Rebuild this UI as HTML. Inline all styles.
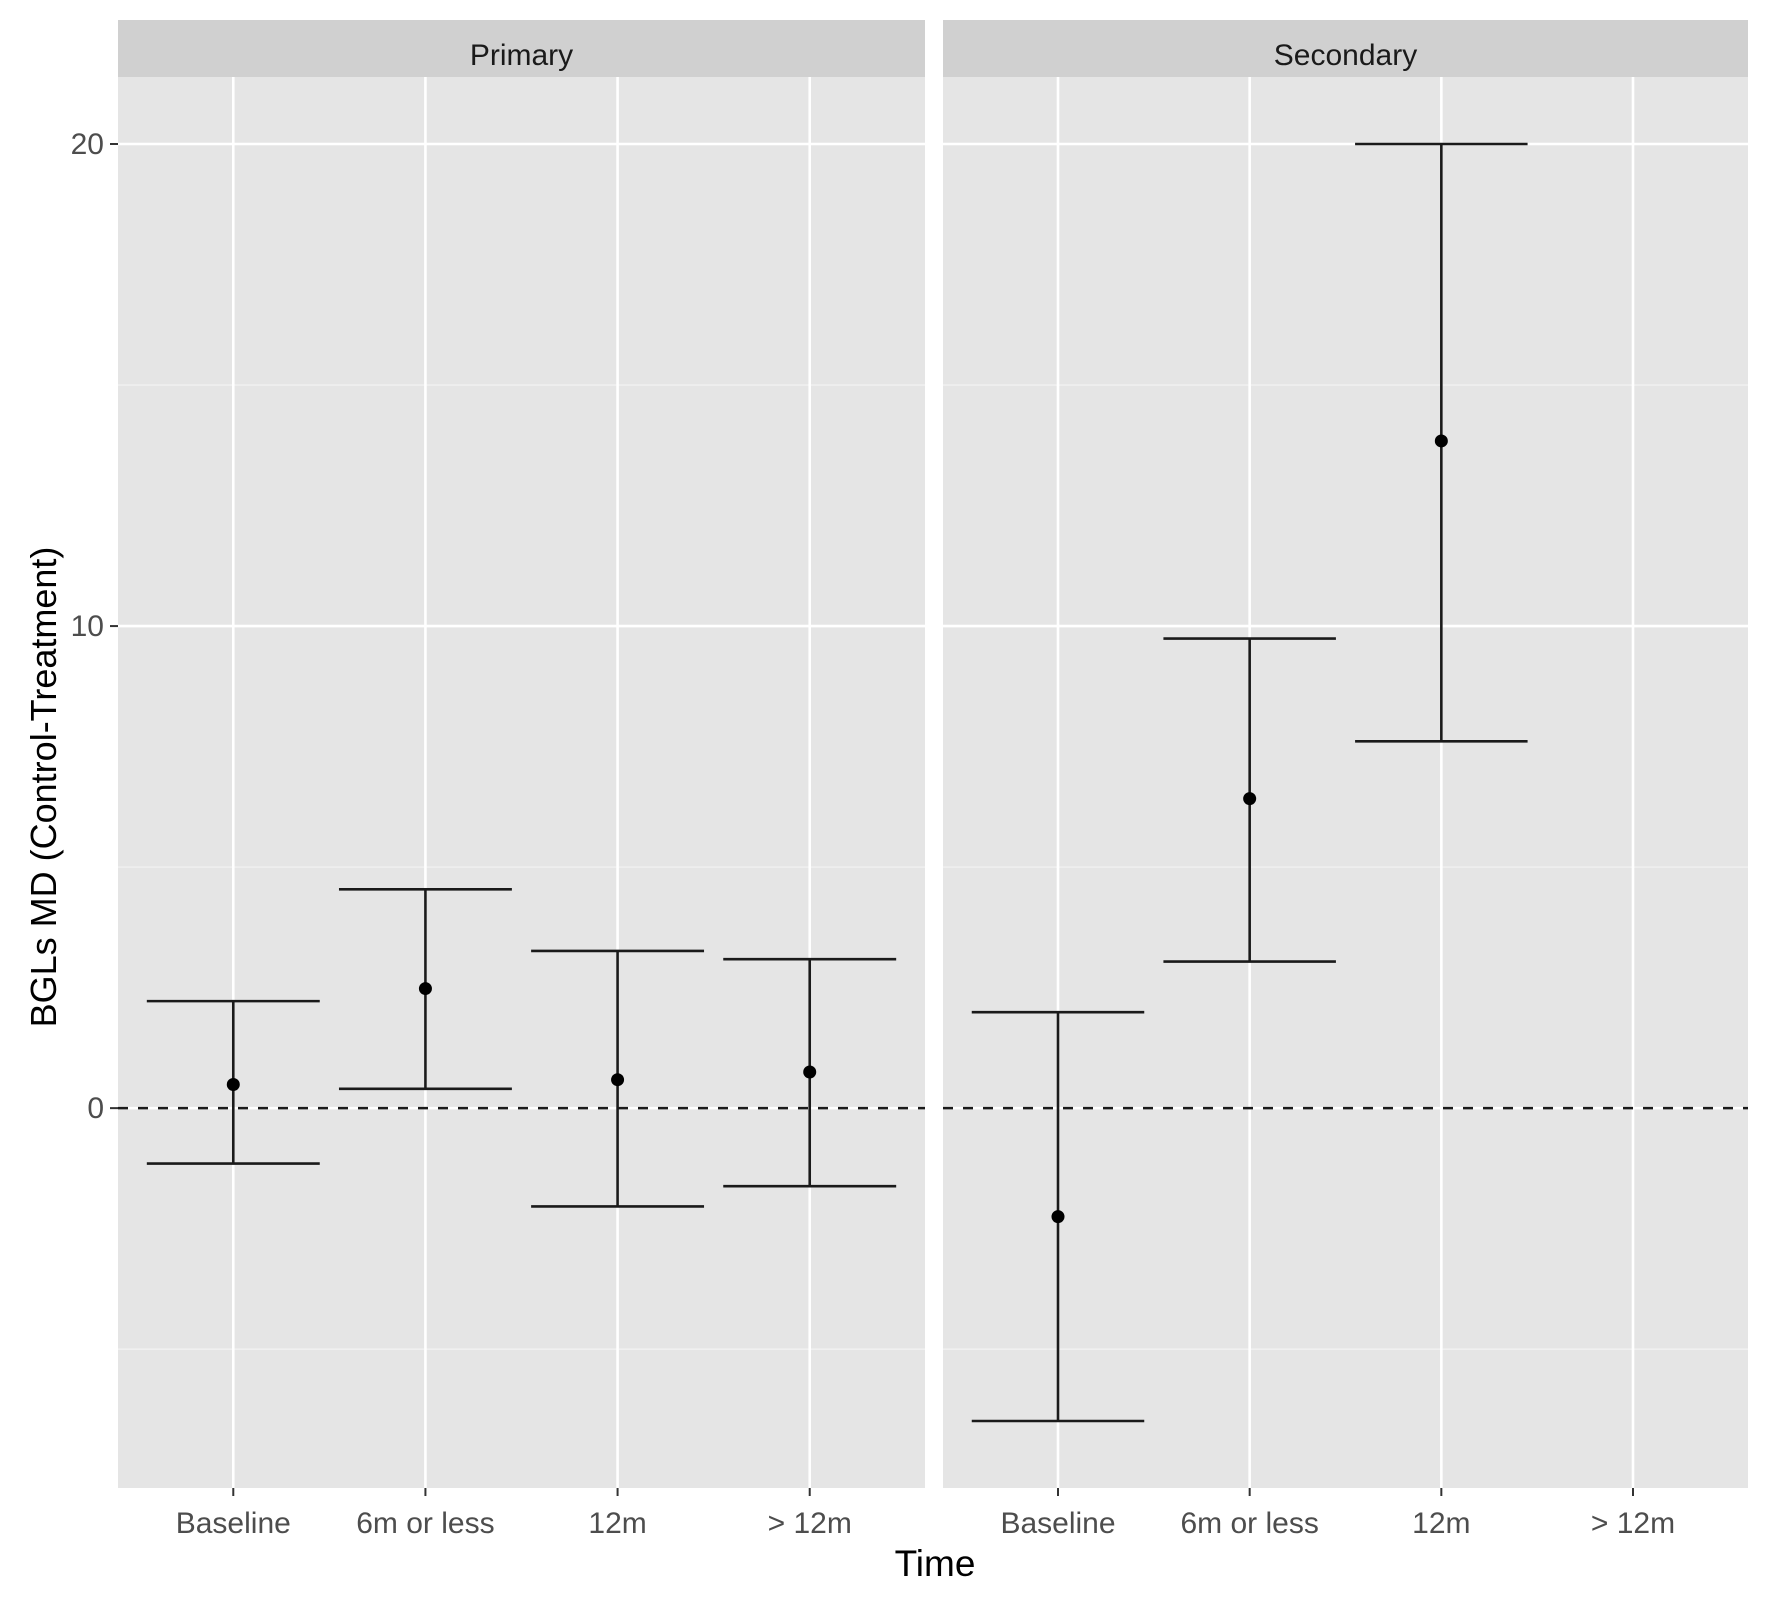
<!DOCTYPE html>
<html><head><meta charset="utf-8">
<style>
html,body{margin:0;padding:0;background:#fff;}
svg{display:block;font-family:"Liberation Sans",Arial,sans-serif;}
</style></head>
<body>
<svg id="chart" width="1772" height="1606" viewBox="0 0 1772 1606" xmlns="http://www.w3.org/2000/svg">
<g id="root"></g>
</svg>
<script>
const categories = ["Baseline", "6m or less", "12m", "> 12m"];
const panels = ["Primary", "Secondary"];
const primaryMean = [0.49, 2.48, 0.59, 0.75];
const primaryLower = [-1.15, 0.40, -2.04, -1.62];
const primaryUpper = [2.22, 4.54, 3.26, 3.09];
const secondaryMean = [-2.25, 6.42, 13.84, null];
const secondaryLower = [-6.49, 3.04, 7.61, null];
const secondaryUpper = [1.99, 9.74, 20.0, null];
const yTicks = [0, 10, 20];
const yMinor = [-5, 5, 15];
const yTickLabels = ["0", "10", "20"];

const NS = "http://www.w3.org/2000/svg";
const root = document.getElementById('root');
const panelTop = 77, panelBottom = 1488, stripTop = 20;
const panelX = [[118, 925], [943, 1748]];
const yMinV = -7.88, yMaxV = 21.39;
function yScale(v){ return panelBottom - (v - yMinV) / (yMaxV - yMinV) * (panelBottom - panelTop); }
function xScale(p, i){ const [a,b] = panelX[p]; const step = (b - a) / (categories.length - 1 + 1.2); return a + step * (0.6 + i); }
function halfW(p){ const [a,b] = panelX[p]; return 0.45 * (b - a) / (categories.length - 1 + 1.2); }
function mk(tag, attrs, parent){ const e = document.createElementNS(NS, tag); for (const k in attrs) e.setAttribute(k, attrs[k]); (parent||root).appendChild(e); return e; }

const means = [primaryMean, secondaryMean], lows = [primaryLower, secondaryLower], ups = [primaryUpper, secondaryUpper];

for (let p = 0; p < 2; p++) {
  const [a,b] = panelX[p];
  const g = mk('g', {});
  
  
  const bg = mk('rect', {x:a, y:panelTop, width:b-a, height:panelBottom-panelTop, fill:'#e5e5e5'}, g);
  
  
  const strip = mk('rect', {x:a, y:stripTop, width:b-a, height:panelTop-stripTop, fill:'#d0d0d0'}, g);
  
  
  const st = mk('text', {x:(a+b)/2, y:65, 'text-anchor':'middle', 'font-size':30, fill:'#1a1a1a'}, g);
  st.textContent = panels[p];
  
  
  yMinor.forEach(v => {
    const l = mk('line', {x1:a, x2:b, y1:yScale(v), y2:yScale(v), stroke:'#f2f2f2', 'stroke-width':1.3}, g);
    
    
  });
  yTicks.forEach(v => {
    const l = mk('line', {x1:a, x2:b, y1:yScale(v), y2:yScale(v), stroke:'#ffffff', 'stroke-width':2.6}, g);
    
    
  });
  categories.forEach((c, i) => {
    const x = xScale(p, i);
    const l = mk('line', {x1:x, x2:x, y1:panelTop, y2:panelBottom, stroke:'#ffffff', 'stroke-width':2.6}, g);
    
    
    const t = mk('line', {x1:x, x2:x, y1:panelBottom, y2:panelBottom+8, stroke:'#333', 'stroke-width':2}, g);
    
    
    const tl = mk('text', {x:x, y:1533, 'text-anchor':'middle', 'font-size':30, fill:'#4d4d4d'}, g);
    tl.textContent = c;
    
    
  });
  const z = mk('line', {x1:a, x2:b, y1:yScale(0), y2:yScale(0), stroke:'#1a1a1a', 'stroke-width':2.6, 'stroke-dasharray':'10 10'}, g);
  
  
  categories.forEach((c, i) => {
    if (means[p][i] === null) return;
    const x = xScale(p, i), hw = halfW(p);
    const eg = mk('g', {stroke:'#1a1a1a', 'stroke-width':2.6}, g);
    
    
    mk('line', {x1:x, x2:x, y1:yScale(lows[p][i]), y2:yScale(ups[p][i])}, eg);
    mk('line', {x1:x-hw, x2:x+hw, y1:yScale(ups[p][i]), y2:yScale(ups[p][i])}, eg);
    mk('line', {x1:x-hw, x2:x+hw, y1:yScale(lows[p][i]), y2:yScale(lows[p][i])}, eg);
    const pt = mk('circle', {cx:x, cy:yScale(means[p][i]), r:6.5, fill:'#000', stroke:'none'}, g);
    
    
  });
}
yTicks.forEach((v, k) => {
  const t = mk('line', {x1:110, x2:118, y1:yScale(v), y2:yScale(v), stroke:'#333', 'stroke-width':2});
  
  
  const tl = mk('text', {x:104, y:yScale(v)+10, 'text-anchor':'end', 'font-size':30, fill:'#4d4d4d'});
  tl.textContent = yTickLabels[k];
  
  
});
const xt = mk('text', {x:935, y:1576, 'text-anchor':'middle', 'font-size':37, fill:'#000'});
xt.textContent = 'Time';


const yt = mk('text', {x:0, y:0, 'text-anchor':'middle', 'font-size':36, fill:'#000', transform:'translate(56,787) rotate(-90)'});
yt.textContent = 'BGLs MD (Control-Treatment)';


</script>
</body></html>
